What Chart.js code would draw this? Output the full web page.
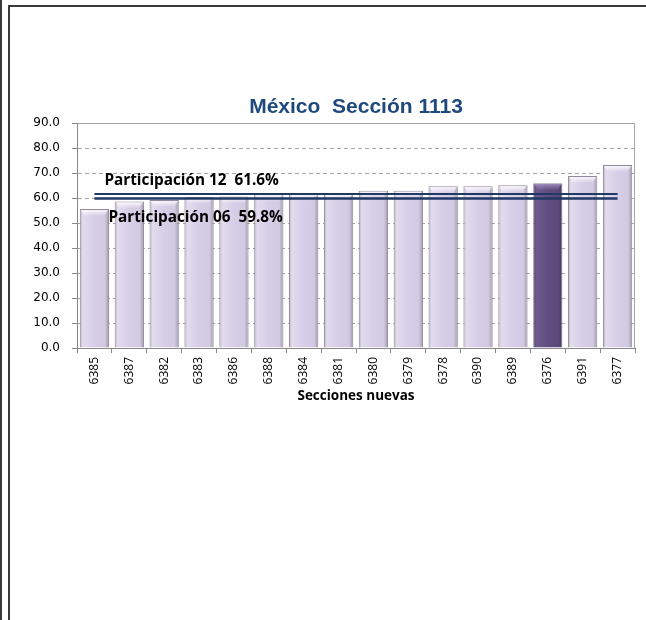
<!DOCTYPE html>
<html>
<head>
<meta charset="utf-8">
<script src="https://cdn.jsdelivr.net/npm/chart.js@4/dist/chart.umd.min.js"></script>
<style>
  html, body { margin: 0; padding: 0; background: #fff; }
  body { width: 646px; height: 620px; position: relative; overflow: hidden; }
  .rule-outer { position: absolute; left: 0; top: 0; width: 2px; height: 620px; background: #3a3a3a; }
  .frame { position: absolute; left: 8px; top: 5px; width: 650px; height: 640px;
           border-left: 2px solid #3a3a3a; border-top: 2px solid #3a3a3a; }
  #wrap { position: absolute; left: 0; top: 0; width: 646px; height: 620px; }
</style>
</head>
<body>
<div class="rule-outer"></div>
<div class="frame"></div>
<div id="wrap"><canvas id="c" width="646" height="620"></canvas></div>
<script>
// Sections (x axis) and turnout per section, in percent
const secciones = ['6385','6387','6382','6383','6386','6388','6384','6381',
                   '6380','6379','6378','6390','6389','6376','6391','6377'];
const participacion = [55.6, 58.6, 59.2, 60.4, 60.6, 61.5, 61.7, 61.7,
                       62.9, 62.9, 64.7, 64.7, 65.1, 65.9, 68.8, 73.2];
// Section shown in the darker colour
const seccionDestacada = '6376';
// Reference turnout levels for the whole section
const participacion12 = 61.6;
const participacion06 = 59.8;
const etiqueta12 = 'Participación 12  61.6%';
const etiqueta06 = 'Participación 06  59.8%';
const titulo = 'México  Sección 1113';
// Y axis ticks
const yTicks = [0, 10, 20, 30, 40, 50, 60, 70, 80, 90];

const BAR_PCT = 0.84;

function barFill(ctx) {
  const dark = secciones[ctx.dataIndex] === seccionDestacada;
  const base = dark ? '#604c7e' : '#d6cde7';
  const chart = ctx.chart;
  const xs = chart.scales && chart.scales.x;
  if (!xs || ctx.type !== 'data' || !isFinite(xs.width) || xs.width <= 0) return base;
  const cx = xs.getPixelForValue(ctx.dataIndex);
  const w = (xs.width / secciones.length) * BAR_PCT;
  const g = chart.ctx.createLinearGradient(cx - w / 2, 0, cx + w / 2, 0);
  if (dark) {
    g.addColorStop(0, '#4a3b63');
    g.addColorStop(0.1, '#6e5a8e');
    g.addColorStop(0.5, '#624d80');
    g.addColorStop(0.88, '#5c4879');
    g.addColorStop(1, '#3e3152');
  } else {
    g.addColorStop(0, '#b4afbd');
    g.addColorStop(0.1, '#e2dcee');
    g.addColorStop(0.5, '#d6cde7');
    g.addColorStop(0.86, '#d2c9e3');
    g.addColorStop(1, '#9c97a6');
  }
  return g;
}

// Bevel highlight on bar tops, plot frame, title and reference line labels
const decor = {
  id: 'decor',
  afterDatasetDraw(chart, args) {
    if (args.index !== 0) return;
    const c = chart.ctx;
    const meta = chart.getDatasetMeta(0);
    c.save();
    meta.data.forEach((bar, i) => {
      const dark = secciones[i] === seccionDestacada;
      const l = bar.x - bar.width / 2, r = bar.x + bar.width / 2, t = bar.y;
      const g = c.createLinearGradient(0, t, 0, t + 7);
      g.addColorStop(0, dark ? 'rgba(170,150,200,0.9)' : 'rgba(255,255,255,0.95)');
      g.addColorStop(1, dark ? 'rgba(170,150,200,0)' : 'rgba(255,255,255,0)');
      c.fillStyle = g;
      c.beginPath();
      c.moveTo(l + 1, t + 1);
      c.lineTo(r - 1, t + 1);
      c.lineTo(r - 5, t + 7);
      c.lineTo(l + 5, t + 7);
      c.closePath();
      c.fill();
    });
    c.restore();
  },
  afterDraw(chart) {
    const c = chart.ctx;
    const a = chart.chartArea;
    const xs = chart.scales.x, ys = chart.scales.y;
    c.save();
    // plot frame
    c.strokeStyle = '#a6a6a6';
    c.lineWidth = 1;
    c.beginPath();
    c.moveTo(Math.round(a.left) + 0.5, Math.round(a.top) + 0.5);
    c.lineTo(Math.round(a.right) - 0.5, Math.round(a.top) + 0.5);
    c.lineTo(Math.round(a.right) - 0.5, Math.round(a.bottom));
    c.stroke();
    // title, centred over the plot area
    c.fillStyle = '#1f497d';
    c.font = 'bold 21px "Liberation Sans"';
    c.textAlign = 'center';
    c.textBaseline = 'middle';
    c.fillText(titulo, (a.left + a.right) / 2, a.top - 16);
    // reference line labels
    c.fillStyle = '#000';
    c.font = 'bold 15.3px "Open Sans"';
    c.textAlign = 'left';
    const x0 = xs.getPixelForValue(0);
    c.fillText(etiqueta12, x0 + 10, ys.getPixelForValue(participacion12) - 13);
    c.fillText(etiqueta06, x0 + 14, ys.getPixelForValue(participacion06) + 19);
    c.restore();
  }
};

new Chart(document.getElementById('c'), {
  type: 'bar',
  data: {
    labels: secciones,
    datasets: [
      {
        label: 'Participación',
        data: participacion,
        backgroundColor: barFill,
        borderColor: '#8f8a99',
        borderWidth: 1,
        barPercentage: BAR_PCT,
        categoryPercentage: 1,
        order: 2
      },
      {
        type: 'line',
        label: etiqueta12,
        data: secciones.map(() => participacion12),
        borderColor: '#1f3864',
        borderWidth: 2,
        pointRadius: 0,
        fill: false,
        order: 1
      },
      {
        type: 'line',
        label: etiqueta06,
        data: secciones.map(() => participacion06),
        borderColor: '#1f3864',
        borderWidth: 2.5,
        pointRadius: 0,
        fill: false,
        order: 1
      }
    ]
  },
  options: {
    responsive: false,
    animation: false,
    devicePixelRatio: 1,
    layout: { padding: { left: 9, right: 11, top: 123, bottom: 216 } },
    plugins: {
      legend: { display: false },
      tooltip: { enabled: false },
      title: { display: false }
    },
    scales: {
      x: {
        offset: true,
        grid: { display: true, drawOnChartArea: false, tickLength: 5, color: '#888', offset: true },
        border: { color: '#888', width: 1 },
        ticks: {
          minRotation: 90, maxRotation: 90, padding: 4,
          color: '#000', font: { family: 'Open Sans', size: 12 }
        },
        title: {
          display: true, text: 'Secciones nuevas', color: '#000',
          font: { family: 'Open Sans', size: 13.5, weight: 'bold' },
          padding: { top: 0, bottom: 0 }
        },
        afterFit(s) { s.height = 56; }
      },
      y: {
        min: 0, max: 90,
        afterBuildTicks(s) { s.ticks = yTicks.map(v => ({ value: v })); },
        grid: { color: '#a6a6a6', tickLength: 5, tickColor: '#888' },
        border: { color: '#888', width: 1, dash: [4, 3] },
        ticks: {
          color: '#000', padding: 12,
          font: { family: 'DejaVu Sans', size: 12 },
          callback: v => Number(v).toFixed(1)
        },
        afterFit(s) { s.width = 68; }
      }
    }
  },
  plugins: [decor]
});
</script>
</body>
</html>
